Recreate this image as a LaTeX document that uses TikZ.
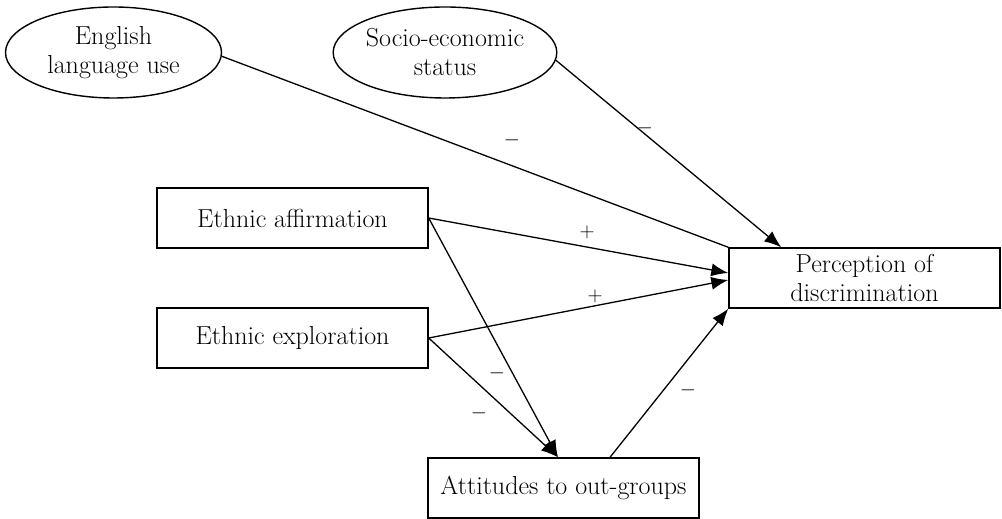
\documentclass[tikz,border=0pt]{standalone}
\usetikzlibrary{arrows.meta,calc,shapes.geometric}
\begin{document}
\begin{tikzpicture}[x=1pt,y=1pt,
  txt/.style={font=\fontsize{26}{29}\selectfont, align=center},
  boxnode/.style={txt, draw, line width=1.4pt, minimum width=271pt, minimum height=60pt, inner sep=0pt},
  ellnode/.style={txt, draw, ellipse, line width=1.4pt, minimum width=216pt, minimum height=91pt, inner sep=0pt},
  conn/.style={line width=1.3pt},
  arr/.style={conn, -{Latex[length=17pt,width=13pt]}},
  sgn/.style={font=\fontsize{20}{24}\selectfont}
]
\useasboundingbox (0,0) rectangle (1002,519);
\node[ellnode] (eng) at (113.5,466.5) {English\\language use};
\node[ellnode] (soc) at (445,466.5) {Socio-economic\\status};
\node[boxnode] (aff) at (292.5,301) {Ethnic affirmation};
\node[boxnode] (exp) at (292.5,181) {Ethnic exploration};
\node[boxnode] (per) at (864.5,241) {Perception of\\discrimination};
\node[boxnode] (att) at (563.5,31) {Attitudes to out-groups};

\coordinate (perA) at ($(per.west)+(0,5)$);
\coordinate (perB) at ($(per.west)+(0,-2)$);
\coordinate (perTop) at ($(per.north west)+(53,0)$);
\coordinate (attIn) at ($(att.north)+(-5.5,0)$);
\coordinate (attOut) at ($(att.north)+(46.5,0)$);

\draw[conn] (eng.-2) -- (per.north west);
\draw[arr] (soc.-4) -- (perTop);
\draw[arr] (aff.east) -- (perA);
\draw[arr] (exp.east) -- (perB);
\draw[arr] (aff.east) -- (attIn);
\draw[arr] (exp.east) -- (attIn);
\draw[arr] (attOut) -- (per.south west);

\node[sgn] (s1) at (512,379) {$-$};
\node[sgn] (s2) at (645,391) {$-$};
\node[sgn] (s3) at (587,287) {$+$};
\node[sgn] (s4) at (595,223) {$+$};
\node[sgn] (s5) at (497,146) {$-$};
\node[sgn] (s6) at (479,106) {$-$};
\node[sgn] (s7) at (688,129) {$-$};
\end{tikzpicture}
\end{document}
